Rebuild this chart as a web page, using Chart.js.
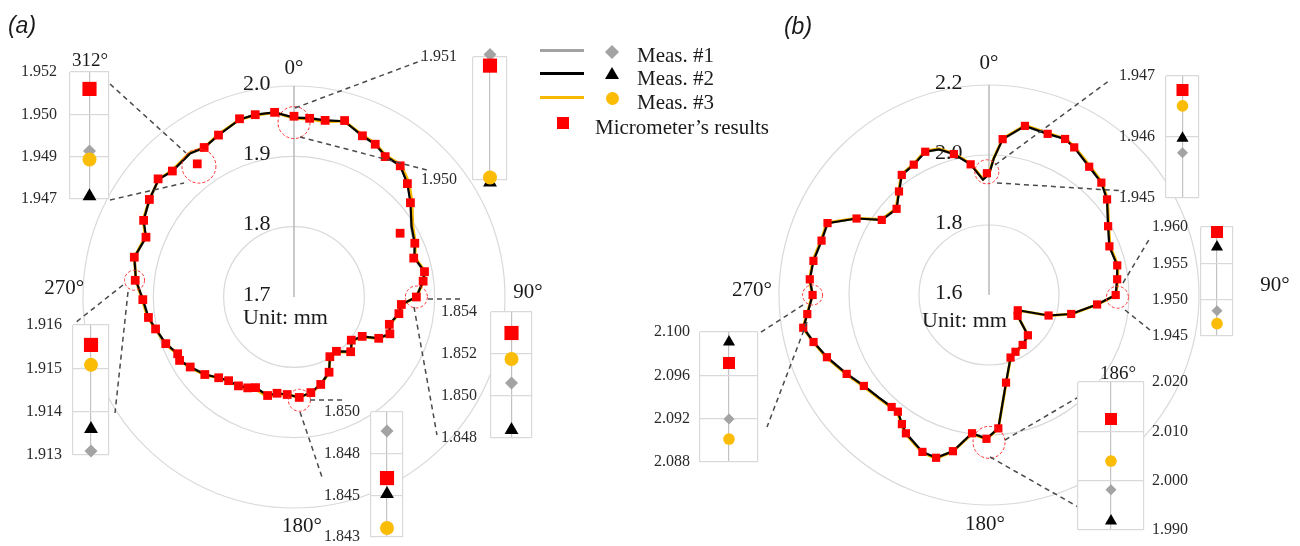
<!DOCTYPE html>
<html>
<head>
<meta charset="utf-8">
<script src="https://cdn.jsdelivr.net/npm/chart.js@4.4.0/dist/chart.umd.min.js"></script>
<style>
  html, body { margin: 0; padding: 0; background: #fff; }
  #stage { position: relative; width: 1300px; height: 546px; overflow: hidden; font-family: 'Liberation Serif', serif; color: #1a1a1a; }
  #stage canvas { position: absolute; }
  .txt { position: absolute; white-space: nowrap; line-height: 1; transform: translate(-50%, -50%); }
  .left { transform: translate(0, -50%); }
  .panel { font-family: 'Liberation Sans', Arial, sans-serif; font-style: italic; }
  .lg { position: absolute; }
</style>
</head>
<body>
<div id="stage"></div>
<script>
// ---------- polar (a): micrometer squares, angle in degrees clockwise from top ----------
const angA = [0, 5, 10, 16, 23, 28, 33, 39, 45, 51, 59, 66, 72, 79, 83, 90, 94, 99, 106, 111,
  116, 120, 127, 134, 142, 149, 155, 163, 170, 177, 184, 190, 195, 203, 207, 212, 218, 223, 229, 236,
  241, 244, 250, 257, 262, 269, 276, 284, 292, 297, 304, 311, 316, 324, 329, 335, 343, 348, 354];
const microA = [1.957, 1.955, 1.955, 1.961, 1.949, 1.946, 1.938, 1.940, 1.928, 1.913, 1.876, 1.888, 1.879, 1.889, 1.885, 1.874, 1.853, 1.851, 1.841, 1.846,
  1.834, 1.812, 1.802, 1.812, 1.798, 1.799, 1.818, 1.830, 1.838, 1.843, 1.839, 1.839, 1.845, 1.840, 1.845, 1.849, 1.851, 1.857, 1.868, 1.878,
  1.886, 1.884, 1.894, 1.902, 1.909, 1.915, 1.927, 1.934, 1.927, 1.940, 1.948, 1.956, 1.949, 1.934, 1.948, 1.954, 1.965, 1.965, 1.964];
// measured profiles (a), same angles
const meas1A = [1.955, 1.956, 1.955, 1.960, 1.948, 1.946, 1.938, 1.940, 1.928, 1.914, 1.894, 1.887, 1.880, 1.888, 1.885, 1.873, 1.853, 1.850, 1.841, 1.845,
  1.834, 1.812, 1.802, 1.812, 1.798, 1.800, 1.818, 1.829, 1.838, 1.843, 1.839, 1.840, 1.845, 1.840, 1.844, 1.849, 1.851, 1.856, 1.868, 1.877,
  1.886, 1.884, 1.894, 1.901, 1.909, 1.914, 1.926, 1.933, 1.927, 1.940, 1.947, 1.955, 1.949, 1.952, 1.947, 1.954, 1.964, 1.965, 1.963];
const meas2A = [1.955, 1.955, 1.955, 1.960, 1.949, 1.946, 1.939, 1.940, 1.928, 1.913, 1.895, 1.888, 1.880, 1.889, 1.885, 1.874, 1.853, 1.851, 1.841, 1.846,
  1.834, 1.812, 1.803, 1.812, 1.798, 1.799, 1.818, 1.830, 1.838, 1.843, 1.839, 1.839, 1.845, 1.840, 1.845, 1.849, 1.851, 1.857, 1.868, 1.878,
  1.886, 1.884, 1.894, 1.902, 1.909, 1.915, 1.926, 1.934, 1.927, 1.940, 1.948, 1.955, 1.949, 1.952, 1.948, 1.954, 1.964, 1.965, 1.964];
const meas3A = [1.954, 1.954, 1.953, 1.960, 1.950, 1.947, 1.940, 1.942, 1.931, 1.916, 1.897, 1.889, 1.881, 1.890, 1.886, 1.874, 1.854, 1.851, 1.842, 1.846,
  1.835, 1.814, 1.803, 1.813, 1.799, 1.799, 1.819, 1.830, 1.839, 1.842, 1.840, 1.841, 1.847, 1.842, 1.846, 1.849, 1.852, 1.857, 1.869, 1.879,
  1.886, 1.885, 1.895, 1.902, 1.910, 1.916, 1.926, 1.934, 1.928, 1.941, 1.948, 1.955, 1.950, 1.953, 1.948, 1.955, 1.964, 1.964, 1.964];
const rTicksA = [1.7, 1.8, 1.9, 2.0];
const rLabelsA = ['1.7', '1.8', '1.9', '2.0'];

// ---------- polar (b) ----------
const angB = [5, 12, 20, 26, 30, 38, 45, 51, 60, 68, 77, 83, 90, 95, 103, 109, 118, 126, 136, 146,
  155, 161, 169, 176, 181, 187, 193, 198, 203, 211, 214, 218, 221, 234, 241, 249, 255, 260, 264, 270,
  275, 281, 288, 294, 300, 305, 313, 319, 324, 330, 336, 346, 352, 359];
const microB = [2.047, 2.094, 2.090, 2.096, 2.087, 2.065, 2.054, 2.034, 1.993, 1.971, 1.976, 1.969, 1.962, 1.910, 1.841, 1.780, 1.693, 1.701, 1.760, 1.772,
  1.779, 1.789, 1.855, 1.982, 2.011, 1.998, 2.058, 2.089, 2.087, 2.061, 2.045, 2.023, 2.024, 2.042, 2.065, 2.096, 2.119, 2.139, 2.122, 2.104,
  2.114, 2.111, 2.103, 2.105, 2.037, 1.974, 1.961, 1.992, 2.024, 2.030, 2.048, 2.015, 1.977, 1.948];
const lineAngB = [0, 2, 5, 12, 20, 26, 30, 38, 45, 51, 60, 68, 77, 83, 90, 95, 103, 109, 118, 126,
  136, 146, 155, 161, 169, 176, 181, 187, 193, 198, 203, 211, 214, 218, 221, 227, 234, 241, 249, 255,
  260, 264, 270, 275, 281, 288, 294, 300, 305, 313, 319, 324, 330, 336, 341, 346, 352, 357];
const meas1B = [1.944, 1.991, 2.046, 2.093, 2.090, 2.095, 2.087, 2.064, 2.054, 2.033, 1.993, 1.970, 1.976, 1.968, 1.962, 1.909, 1.841, 1.780, 1.694, 1.701,
  1.759, 1.772, 1.778, 1.789, 1.854, 1.981, 2.010, 1.998, 2.057, 2.088, 2.087, 2.060, 2.045, 2.022, 2.024, 2.031, 2.041, 2.064, 2.096, 2.118,
  2.138, 2.122, 2.103, 2.113, 2.111, 2.102, 2.104, 2.037, 1.973, 1.961, 1.991, 2.023, 2.030, 2.047, 2.040, 2.014, 1.976, 1.931];
const meas2B = [1.945, 1.990, 2.047, 2.094, 2.090, 2.096, 2.087, 2.065, 2.054, 2.034, 1.993, 1.971, 1.976, 1.969, 1.962, 1.910, 1.841, 1.780, 1.693, 1.701,
  1.760, 1.772, 1.779, 1.789, 1.855, 1.982, 2.011, 1.998, 2.058, 2.089, 2.087, 2.061, 2.045, 2.023, 2.024, 2.030, 2.042, 2.065, 2.096, 2.119,
  2.139, 2.122, 2.104, 2.114, 2.111, 2.103, 2.105, 2.037, 1.974, 1.961, 1.992, 2.024, 2.030, 2.048, 2.040, 2.015, 1.977, 1.930];
const meas3B = [1.946, 1.992, 2.049, 2.096, 2.092, 2.097, 2.089, 2.068, 2.056, 2.036, 1.995, 1.973, 1.978, 1.971, 1.963, 1.911, 1.843, 1.781, 1.694, 1.702,
  1.761, 1.774, 1.781, 1.790, 1.857, 1.983, 2.012, 2.000, 2.060, 2.091, 2.089, 2.063, 2.047, 2.025, 2.026, 2.032, 2.044, 2.067, 2.098, 2.120,
  2.140, 2.123, 2.105, 2.115, 2.113, 2.105, 2.107, 2.039, 1.976, 1.963, 1.994, 2.026, 2.032, 2.050, 2.042, 2.017, 1.979, 1.932];
const rTicksB = [1.6, 1.8, 2.0, 2.2];
const rLabelsB = ['1.6', '1.8', '2.0', '2.2'];

const angleLabels = ['0°', '90°', '180°', '270°'];

// ---------- inset charts: values are [Meas.#1, Meas.#2, Meas.#3, micrometer] ----------
const a312Ticks = [1.9470, 1.9485, 1.9500, 1.9515];
const a312Labels = ['1.947', '1.949', '1.950', '1.952'];
const a312Vals = [1.9487, 1.9471, 1.9484, 1.9509];

const a0Ticks = [1.950, 1.951];
const a0Labels = ['1.950', '1.951'];
const a0Vals = [1.95102, 1.94998, 1.95002, 1.95093];

const a270Ticks = [1.913, 1.914, 1.915, 1.916];
const a270Labels = ['1.913', '1.914', '1.915', '1.916'];
const a270Vals = [1.91309, 1.91360, 1.91508, 1.91554];

const a180Ticks = [1.8430, 1.84533, 1.84767, 1.8500];
const a180Labels = ['1.843', '1.845', '1.848', '1.850'];
const a180Vals = [1.84894, 1.84541, 1.84350, 1.84630];

const a90Ticks = [1.848, 1.850, 1.852, 1.854];
const a90Labels = ['1.848', '1.850', '1.852', '1.854'];
const a90Vals = [1.85062, 1.84838, 1.85176, 1.85300];

const b0Ticks = [1.945, 1.946, 1.947];
const b0Labels = ['1.945', '1.946', '1.947'];
const b0Vals = [1.94574, 1.94598, 1.94651, 1.94677];

const b90Ticks = [1.945, 1.950, 1.955, 1.960];
const b90Labels = ['1.945', '1.950', '1.955', '1.960'];
const b90Vals = [1.94849, 1.95725, 1.94670, 1.95931];

const b270Ticks = [2.088, 2.092, 2.096, 2.100];
const b270Labels = ['2.088', '2.092', '2.096', '2.100'];
const b270Vals = [2.09197, 2.09908, 2.09012, 2.09714];

const b186Ticks = [1.990, 2.000, 2.010, 2.020];
const b186Labels = ['1.990', '2.000', '2.010', '2.020'];
const b186Vals = [1.99818, 1.99182, 2.00398, 2.01250];

// ------------------------------------------------------------------
Chart.defaults.font.family = "'Liberation Serif', serif";
Chart.defaults.animation = false;

const GRAY = '#a3a3a3', BLACK = '#000000', YELLOW = '#f6b800', RED = '#ff0000';
const stage = document.getElementById('stage');
const degrees = Array.from({ length: 360 }, (_, i) => i);

function spread(angles, values) {
  const out = new Array(360).fill(null);
  angles.forEach((a, i) => { out[a] = values[i]; });
  return out;
}

function addCanvas(x, y, w, h) {
  const cv = document.createElement('canvas');
  cv.width = w; cv.height = h;
  cv.style.left = x + 'px'; cv.style.top = y + 'px';
  stage.appendChild(cv);
  return cv;
}

function addText(txt, x, y, size, cls) {
  const d = document.createElement('div');
  d.className = 'txt' + (cls ? ' ' + cls : '');
  d.textContent = txt;
  d.style.left = x + 'px'; d.style.top = y + 'px';
  d.style.fontSize = size + 'px';
  stage.appendChild(d);
  return d;
}

// tick labels, angle labels, dashed red circles and leader lines
function polarDecor(d) {
  return {
    id: 'polarDecor',
    beforeDatasetsDraw(chart) {
      const s = chart.scales.r, ctx = chart.ctx;
      ctx.save();
      ctx.fillStyle = '#1a1a1a';
      ctx.textBaseline = 'middle';
      ctx.font = '22px "Liberation Serif"';
      ctx.textAlign = 'left';
      d.tickVals.forEach((v, i) => {
        ctx.fillText(d.tickLabels[i], s.xCenter - d.tickDx, s.yCenter - s.getDistanceFromCenterForValue(v) - 2);
      });
      ctx.fillText('Unit: mm', s.xCenter - d.unitDx, s.yCenter + d.unitDy);
      ctx.font = '21px "Liberation Serif"';
      ctx.textAlign = 'center';
      angleLabels.forEach((t, i) => {
        const p = s.getPointPosition(d.labelAt[i][0], d.labelAt[i][1]);
        ctx.fillText(t, p.x, p.y);
      });
      ctx.restore();
    },
    afterDatasetsDraw(chart) {
      const s = chart.scales.r, ctx = chart.ctx;
      ctx.save();
      ctx.strokeStyle = '#ff3030';
      ctx.lineWidth = 1;
      ctx.setLineDash([3, 2]);
      d.rings.forEach(m => {
        const p = s.getPointPositionForValue(m[0], m[1]);
        ctx.beginPath();
        ctx.arc(p.x, p.y, m[2], 0, Math.PI * 2);
        ctx.stroke();
      });
      ctx.strokeStyle = '#4a4a4a';
      ctx.lineWidth = 1.5;
      ctx.setLineDash([5, 4]);
      d.leaders.forEach(l => {
        ctx.beginPath();
        ctx.moveTo(l[0] - d.offX, l[1]);
        ctx.lineTo(l[2] - d.offX, l[3]);
        ctx.stroke();
      });
      ctx.restore();
    }
  };
}

function polarChart(cv, pad, range, step, lines, squares, sqRadius, decor) {
  return new Chart(cv, {
    type: 'radar',
    data: {
      labels: degrees,
      datasets: [
        { label: "Micrometer's results", data: squares, showLine: false, pointStyle: 'rect', pointRadius: sqRadius,
          pointBackgroundColor: RED, pointBorderWidth: 0, borderWidth: 0, fill: false, spanGaps: true, order: 0 },
        { label: 'Meas. #2', data: lines[1], borderColor: BLACK, borderWidth: 2.2, pointRadius: 0, fill: false, tension: 0, spanGaps: true, order: 1 },
        { label: 'Meas. #3', data: lines[2], borderColor: YELLOW, borderWidth: 2.8, pointRadius: 0, fill: false, tension: 0, spanGaps: true, order: 2 },
        { label: 'Meas. #1', data: lines[0], borderColor: GRAY, borderWidth: 2.2, pointRadius: 0, fill: false, tension: 0, spanGaps: true, order: 3 }
      ]
    },
    options: {
      responsive: false,
      events: [],
      layout: { padding: pad },
      plugins: { legend: { display: false }, tooltip: { enabled: false } },
      scales: {
        r: {
          min: range[0], max: range[1],
          ticks: { display: false, stepSize: step },
          grid: { circular: true, color: '#d9d9d9', lineWidth: 1.2 },
          angleLines: { display: true, color: '#b8b8b8', lineWidth: c => (c.index === 0 ? 1.5 : 0) },
          pointLabels: { display: false }
        }
      }
    },
    plugins: [decor]
  });
}

// (a) centre (294, 297), 2.0 ring radius 211
polarChart(addCanvas(0, 0, 640, 546), { left: 83, top: 86, right: 135, bottom: 38 }, [1.7, 2.0], 0.1,
  [spread(angA, meas1A), spread(angA, meas2A), spread(angA, meas3A)], spread(angA, microA), 6.2,
  polarDecor({
    offX: 0, tickVals: rTicksA, tickLabels: rLabelsA, tickDx: 51, unitDx: 51, unitDy: 21,
    labelAt: [[0, 229], [89, 234], [178, 230], [272, 230]],
    rings: [[0, 1.948, 16], [324, 1.930, 17], [276, 1.928, 10], [90, 1.874, 11], [177, 1.847, 11]],
    leaders: [[110, 84, 186, 153], [110, 200, 184, 183], [295, 108, 423, 60], [300, 137, 427, 170],
      [123, 285, 75, 323], [128, 292, 115, 413], [310, 400, 345, 400], [300, 412, 322, 477],
      [428, 299, 462, 299], [414, 307, 437, 435]]
  }));

// (b) centre (989, 295), 2.2 ring radius 210
polarChart(addCanvas(650, 0, 650, 546), { left: 129, top: 85, right: 101, bottom: 41 }, [1.6, 2.2], 0.2,
  [spread(lineAngB, meas1B), spread(lineAngB, meas2B), spread(lineAngB, meas3B)], spread(angB, microB), 5.8,
  polarDecor({
    offX: 650, tickVals: rTicksB, tickLabels: rLabelsB, tickDx: 54, unitDx: 67, unitDy: 26,
    labelAt: [[0, 232], [88, 286], [181, 230], [271, 237]],
    rings: [[359, 1.952, 12], [91, 1.967, 11], [270, 2.104, 10], [180, 2.021, 16]],
    leaders: [[995, 165, 1110, 80], [997, 183, 1125, 191], [1123, 283, 1150, 238], [1125, 310, 1150, 330],
      [803, 305, 755, 336], [807, 322, 767, 427], [1005, 440, 1082, 395], [990, 457, 1080, 508]]
  }));

// ---------- insets ----------
const whiteArea = {
  id: 'whiteArea',
  beforeDraw(chart) {
    const a = chart.chartArea, ctx = chart.ctx;
    ctx.save();
    ctx.fillStyle = '#fff';
    ctx.fillRect(a.left, a.top, a.right - a.left, a.bottom - a.top);
    ctx.restore();
  }
};

function inset(box, side, pad, ticks, labels, vals, big) {
  const W = 60, P = 14, R = 12;
  const cv = addCanvas(side === 'left' ? box.x - W : box.x - R, box.y - P, W + box.w + R, box.h + 2 * P);
  const sz = big ? [6.5, 8, 7, 10] : [5.5, 7, 5.8, 8.5];
  const styles = ['rectRot', 'triangle', 'circle', 'rect'];
  const colors = [GRAY, BLACK, '#fbbc05', RED];
  const names = ['Meas. #1', 'Meas. #2', 'Meas. #3', "Micrometer's results"];
  new Chart(cv, {
    type: 'scatter',
    data: {
      datasets: vals.map((v, i) => ({
        label: names[i], data: [{ x: 0, y: v }], pointStyle: styles[i], pointRadius: sz[i],
        pointBackgroundColor: colors[i], pointBorderWidth: 0, clip: false, order: 4 - i
      }))
    },
    options: {
      responsive: false,
      events: [],
      layout: { autoPadding: false, padding: { top: P, bottom: P, left: side === 'left' ? 0 : R, right: side === 'left' ? R : 0 } },
      plugins: { legend: { display: false }, tooltip: { enabled: false } },
      scales: {
        x: {
          type: 'linear', min: -1, max: 1,
          afterBuildTicks: s => { s.ticks = [-1, 0, 1].map(v => ({ value: v })); },
          afterFit: s => { s.height = 0; s.paddingLeft = 0; s.paddingRight = 0; },
          ticks: { display: false },
          grid: { drawTicks: false, lineWidth: 1.2, color: c => (c.tick && c.tick.value === 0 ? '#c2c2c2' : '#d9d9d9') },
          border: { display: false }
        },
        y: {
          position: side, min: ticks[0], max: ticks[ticks.length - 1],
          afterBuildTicks: s => { s.ticks = ticks.map(v => ({ value: v })); },
          // keep the box where it is: no extra room for the label half-heights
          afterFit: s => { s.width = W; s.paddingTop = 0; s.paddingBottom = 0; },
          ticks: { callback: (v, i) => labels[i], padding: pad, color: '#2a2a2a', font: { size: 16 } },
          grid: { drawTicks: false, lineWidth: 1.2, color: '#d9d9d9' },
          border: { display: false }
        }
      }
    },
    plugins: [whiteArea]
  });
}

inset({ x: 70, y: 72, w: 39, h: 127 }, 'left', 13, a312Ticks, a312Labels, a312Vals, true);
inset({ x: 473, y: 57, w: 34, h: 123 }, 'left', 16, a0Ticks, a0Labels, a0Vals, true);
inset({ x: 73, y: 325, w: 36, h: 130 }, 'left', 11, a270Ticks, a270Labels, a270Vals, true);
inset({ x: 371, y: 412, w: 32, h: 125 }, 'left', 11, a180Ticks, a180Labels, a180Vals, true);
inset({ x: 491, y: 312, w: 41, h: 126 }, 'left', 14, a90Ticks, a90Labels, a90Vals, true);
inset({ x: 1166, y: 76, w: 33, h: 122 }, 'left', 11, b0Ticks, b0Labels, b0Vals, false);
inset({ x: 1201, y: 227, w: 32, h: 109 }, 'left', 13, b90Ticks, b90Labels, b90Vals, false);
inset({ x: 700, y: 332, w: 58, h: 130 }, 'left', 10, b270Ticks, b270Labels, b270Vals, false);
inset({ x: 1078, y: 382, w: 66, h: 148 }, 'right', 8, b186Ticks, b186Labels, b186Vals, false);

// ---------- texts ----------
addText('(a)', 22, 25, 23, 'panel');
addText('(b)', 798, 26, 23, 'panel');
addText('312°', 90, 59, 19);
addText('186°', 1118, 372, 19);

// ---------- legend ----------
function lg(css) {
  const d = document.createElement('div');
  d.className = 'lg';
  Object.assign(d.style, css);
  stage.appendChild(d);
}
lg({ left: '540px', top: '49px', width: '44px', height: '3px', background: GRAY });
lg({ left: '540px', top: '72px', width: '44px', height: '3px', background: BLACK });
lg({ left: '540px', top: '96px', width: '44px', height: '3px', background: YELLOW });
lg({ left: '607px', top: '47px', width: '10px', height: '10px', background: GRAY, transform: 'rotate(45deg)' });
lg({ left: '605px', top: '67px', width: '0', height: '0', borderLeft: '7px solid transparent', borderRight: '7px solid transparent', borderBottom: '12px solid #000' });
lg({ left: '606px', top: '92px', width: '13px', height: '13px', borderRadius: '50%', background: '#fbbc05' });
lg({ left: '557px', top: '117px', width: '12px', height: '12px', background: RED });
addText('Meas. #1', 637, 55, 21, 'left');
addText('Meas. #2', 637, 78, 21, 'left');
addText('Meas. #3', 637, 102, 21, 'left');
addText('Micrometer’s results', 595, 127, 21, 'left');
</script>
</body>
</html>
